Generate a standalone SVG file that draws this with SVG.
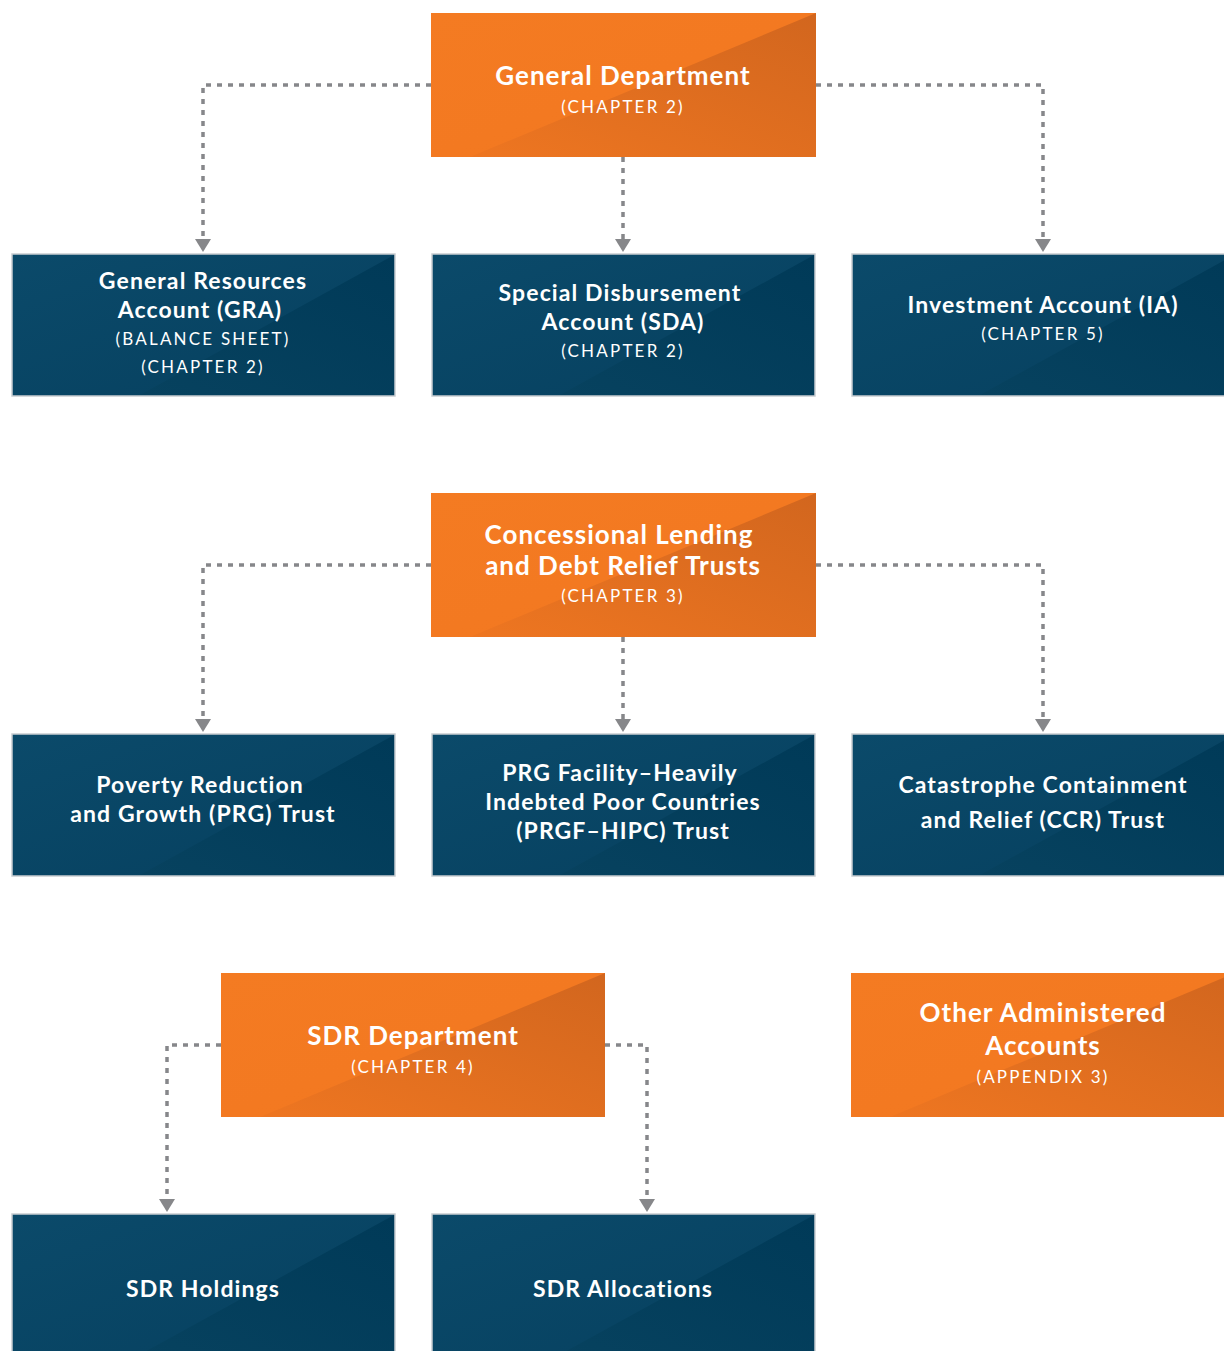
<svg xmlns="http://www.w3.org/2000/svg" width="1224" height="1351" viewBox="0 0 1224 1351">
<defs>
  <linearGradient id="og" x1="0" y1="0" x2="1" y2="1">
    <stop offset="0" stop-color="#F47B22"/>
    <stop offset="1" stop-color="#F27720"/>
  </linearGradient>
  <linearGradient id="ogd" x1="0" y1="1" x2="1" y2="0">
    <stop offset="0" stop-color="#EE7621"/>
    <stop offset="1" stop-color="#D2661E"/>
  </linearGradient>
  <linearGradient id="bg" x1="0" y1="0" x2="1" y2="1">
    <stop offset="0" stop-color="#0B4A6A"/>
    <stop offset="1" stop-color="#06405F"/>
  </linearGradient>
  <linearGradient id="bgd" x1="0" y1="1" x2="1" y2="0">
    <stop offset="0" stop-color="#07425F"/>
    <stop offset="1" stop-color="#003A58"/>
  </linearGradient>
  <style>
    .con { fill: none; stroke: #86878A; stroke-width: 3.5; stroke-dasharray: 5 6; }
    .ah { fill: #86878A; }
    .orect { fill: url(#og); }
    .otri { fill: url(#ogd); }
    .brect { fill: url(#bg); stroke: #C9CDD1; stroke-width: 1.5; }
    .btri { fill: url(#bgd); }
    text { font-family: Lato, "Noto Sans", "Liberation Sans", sans-serif; fill: #FFFFFF; text-anchor: middle; }
    .ot { font-size: 26px; font-weight: 700; letter-spacing: 1px; }
    .bt { font-size: 23px; font-weight: 700; letter-spacing: 1.1px; }
    .sub { font-size: 17px; font-weight: 400; letter-spacing: 2.2px; }
  </style>
</defs>

<g id="connectors">
  <path class="con" d="M431,85 H203 V240"/>
  <path class="con" d="M623,157 V240"/>
  <path class="con" d="M816,85 H1043 V240"/>
  <path class="con" d="M431,565 H203 V720"/>
  <path class="con" d="M623,637 V720"/>
  <path class="con" d="M816,565 H1043 V720"/>
  <path class="con" d="M221,1045 H167 V1200"/>
  <path class="con" d="M605,1045 H647 V1200"/>
  <path class="ah" d="M195,239 H211 L203,252 Z"/>
  <path class="ah" d="M615,239 H631 L623,252 Z"/>
  <path class="ah" d="M1035,239 H1051 L1043,252 Z"/>
  <path class="ah" d="M195,719 H211 L203,732 Z"/>
  <path class="ah" d="M615,719 H631 L623,732 Z"/>
  <path class="ah" d="M1035,719 H1051 L1043,732 Z"/>
  <path class="ah" d="M159,1199 H175 L167,1212 Z"/>
  <path class="ah" d="M639,1199 H655 L647,1212 Z"/>
</g>

<g id="general-department">
  <rect class="orect" x="431" y="13" width="385" height="144"/>
  <polygon class="otri" points="816,13 816,157 470,157"/>
  <text class="ot" x="623" y="85">General Department</text>
  <text class="sub" x="623" y="113">(CHAPTER 2)</text>
</g>

<g id="gra">
  <rect class="brect" x="12" y="254" width="383" height="142"/>
  <polygon class="btri" points="394,255 394,395 140,395"/>
  <text class="bt" x="203" y="289">General Resources</text>
  <text class="bt" x="200" y="318">Account (GRA)</text>
  <text class="sub" x="203" y="345">(BALANCE SHEET)</text>
  <text class="sub" x="203" y="373">(CHAPTER 2)</text>
</g>

<g id="sda">
  <rect class="brect" x="432" y="254" width="383" height="142"/>
  <polygon class="btri" points="814,255 814,395 560,395"/>
  <text class="bt" x="620" y="301">Special Disbursement</text>
  <text class="bt" x="623" y="330">Account (SDA)</text>
  <text class="sub" x="623" y="357">(CHAPTER 2)</text>
</g>

<g id="ia">
  <rect class="brect" x="852" y="254" width="383" height="142"/>
  <polygon class="btri" points="1234,255 1234,395 980,395"/>
  <text class="bt" x="1043" y="313">Investment Account (IA)</text>
  <text class="sub" x="1043" y="340">(CHAPTER 5)</text>
</g>

<g id="concessional">
  <rect class="orect" x="431" y="493" width="385" height="144"/>
  <polygon class="otri" points="816,493 816,637 470,637"/>
  <text class="ot" x="619" y="544">Concessional Lending</text>
  <text class="ot" x="623" y="575">and Debt Relief Trusts</text>
  <text class="sub" x="623" y="602">(CHAPTER 3)</text>
</g>

<g id="prg-trust">
  <rect class="brect" x="12" y="734" width="383" height="142"/>
  <polygon class="btri" points="394,735 394,875 140,875"/>
  <text class="bt" x="200" y="793">Poverty Reduction</text>
  <text class="bt" x="203" y="822">and Growth (PRG) Trust</text>
</g>

<g id="prgf-hipc">
  <rect class="brect" x="432" y="734" width="383" height="142"/>
  <polygon class="btri" points="814,735 814,875 560,875"/>
  <text class="bt" x="620" y="781">PRG Facility–Heavily</text>
  <text class="bt" x="623" y="810">Indebted Poor Countries</text>
  <text class="bt" x="623" y="839">(PRGF–HIPC) Trust</text>
</g>

<g id="ccr-trust">
  <rect class="brect" x="852" y="734" width="383" height="142"/>
  <polygon class="btri" points="1234,735 1234,875 980,875"/>
  <text class="bt" x="1043" y="793">Catastrophe Containment</text>
  <text class="bt" x="1043" y="828">and Relief (CCR) Trust</text>
</g>

<g id="sdr-department">
  <rect class="orect" x="221" y="973" width="384" height="144"/>
  <polygon class="otri" points="605,973 605,1117 260,1117"/>
  <text class="ot" x="413" y="1045">SDR Department</text>
  <text class="sub" x="413" y="1073">(CHAPTER 4)</text>
</g>

<g id="other-administered">
  <rect class="orect" x="851" y="973" width="384" height="144"/>
  <polygon class="otri" points="1235,973 1235,1117 890,1117"/>
  <text class="ot" x="1043" y="1022">Other Administered</text>
  <text class="ot" x="1043" y="1055">Accounts</text>
  <text class="sub" x="1043" y="1083">(APPENDIX 3)</text>
</g>

<g id="sdr-holdings">
  <rect class="brect" x="12" y="1214" width="383" height="150"/>
  <polygon class="btri" points="394,1215 394,1360 130,1360"/>
  <text class="bt" x="203" y="1297">SDR Holdings</text>
</g>

<g id="sdr-allocations">
  <rect class="brect" x="432" y="1214" width="383" height="150"/>
  <polygon class="btri" points="814,1215 814,1360 550,1360"/>
  <text class="bt" x="623" y="1297">SDR Allocations</text>
</g>
</svg>
